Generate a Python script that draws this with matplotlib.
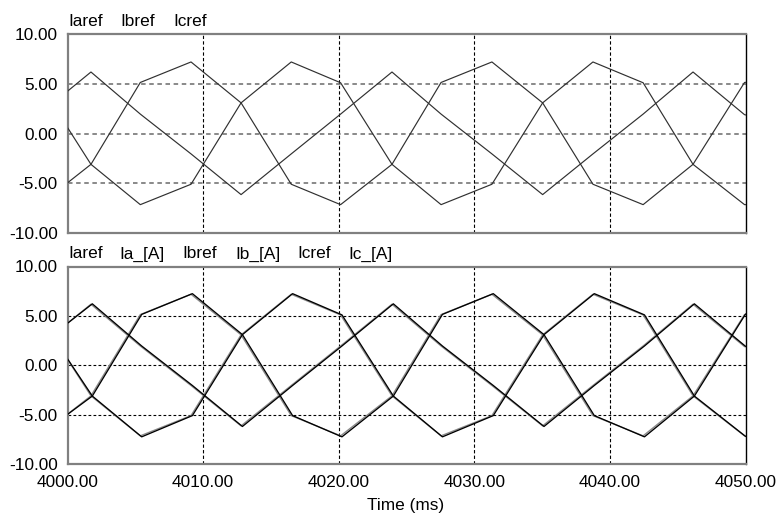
import matplotlib
matplotlib.use('Agg')
import matplotlib.pyplot as plt

plt.rcParams['font.family'] = ['Liberation Sans', 'DejaVu Sans']

# ---- data ----
t_ref = [4000.0, 4001.73, 4005.37, 4009.11, 4012.80, 4016.50, 4020.14, 4023.93,
         4027.55, 4031.30, 4035.04, 4038.75, 4042.45, 4046.13, 4049.93, 4050.0]
iaref = [4.25, 6.18, 1.95, -2.05, -6.14, -2.05, 1.95, 6.18,
         1.95, -2.05, -6.14, -2.05, 1.95, 6.18, 1.89, 1.87]
ibref = [0.6, -3.1, -7.15, -5.1, 3.08, 7.19, 5.1, -3.1,
         -7.15, -5.1, 3.08, 7.19, 5.1, -3.1, -7.15, -7.15]
icref = [-4.96, -3.1, 5.13, 7.19, 3.08, -5.1, -7.15, -3.1,
         5.13, 7.19, 3.08, -5.1, -7.15, -3.1, 5.13, 5.14]

t_meas = [4000.0, 4001.83, 4005.47, 4009.21, 4012.90, 4016.60, 4020.24, 4024.03,
          4027.65, 4031.40, 4035.14, 4038.85, 4042.55, 4046.23, 4050.0]
ia_meas = [4.25, 6.22, 1.95, -2.05, -6.2, -2.05, 1.95, 6.22,
           1.95, -2.05, -6.2, -2.05, 1.95, 6.22, 1.92]
ib_meas = [0.65, -3.12, -7.25, -5.1, 3.1, 7.25, 5.1, -3.12,
           -7.25, -5.1, 3.1, 7.25, 5.1, -3.12, -7.2]
ic_meas = [-4.98, -3.12, 5.15, 7.25, 3.1, -5.1, -7.25, -3.12,
           5.15, 7.25, 3.1, -5.1, -7.25, -3.12, 5.18]

top_labels = ['Iaref', 'Ibref', 'Icref']
bottom_labels = ['Iaref', 'Ia_[A]', 'Ibref', 'Ib_[A]', 'Icref', 'Ic_[A]']
y_ticks = [-10, -5, 0, 5, 10]
x_ticks = [4000, 4010, 4020, 4030, 4040, 4050]

W, H = 776, 513
fig = plt.figure(figsize=(W / 100, H / 100), dpi=100)

FS = 12.4


def make_axes(top_px, bot_px, hgrid_color, hgrid_lw):
    ax = fig.add_axes([67.5 / W, 1 - bot_px / H, (745.5 - 67.5) / W, (bot_px - top_px) / H])
    ax.set_xlim(4000, 4050)
    ax.set_ylim(-10, 10)
    ax.set_yticks(y_ticks)
    ax.set_yticklabels(['%.2f' % v for v in y_ticks], fontsize=FS)
    ax.set_xticks(x_ticks)
    ax.tick_params(length=0, pad=7)
    for v in [-5, 0, 5]:
        ax.axhline(v, color=hgrid_color, lw=hgrid_lw, ls=(0, (2.5, 2)), zorder=1)
    for v in [4010, 4020, 4030, 4040]:
        ax.axvline(v, color='black', lw=0.8, ls=(0, (3, 2)), zorder=1)
    for s in ['top', 'bottom', 'left']:
        ax.spines[s].set_color('#808080')
        ax.spines[s].set_linewidth(1.6)
    ax.spines['right'].set_color('black')
    ax.spines['right'].set_linewidth(1.0)
    return ax


ax1 = make_axes(34, 233, '#808080', 1.3)
ax1.set_xticklabels([])
for series in (iaref, ibref, icref):
    ax1.plot(t_ref, series, color='#303030', lw=0.85, zorder=3)

ax2 = make_axes(266.5, 464, 'black', 0.8)
ax2.set_xticklabels(['%.2f' % v for v in x_ticks], fontsize=FS)
ax2.tick_params(axis='x', pad=8)
for series in (iaref, ibref, icref):
    ax2.plot(t_ref, series, color='#8a8a8a', lw=1.0, zorder=3)
for series in (ia_meas, ib_meas, ic_meas):
    ax2.plot(t_meas, series, color='black', lw=0.95, zorder=4)

# channel labels above each panel
top_x = [68, 120, 173]
for lab, xp in zip(top_labels, top_x):
    fig.text(xp / W, 1 - 26 / H, lab, fontsize=FS, ha='left', va='baseline')
bot_x = [68, 119, 182, 235, 297, 348]
for lab, xp in zip(bottom_labels, bot_x):
    fig.text(xp / W, 1 - 258.5 / H, lab, fontsize=FS, ha='left', va='baseline')

fig.text(406 / W, 1 - 510 / H, 'Time (ms)', fontsize=FS, ha='center', va='baseline')

fig.savefig('out.png', dpi=100)
